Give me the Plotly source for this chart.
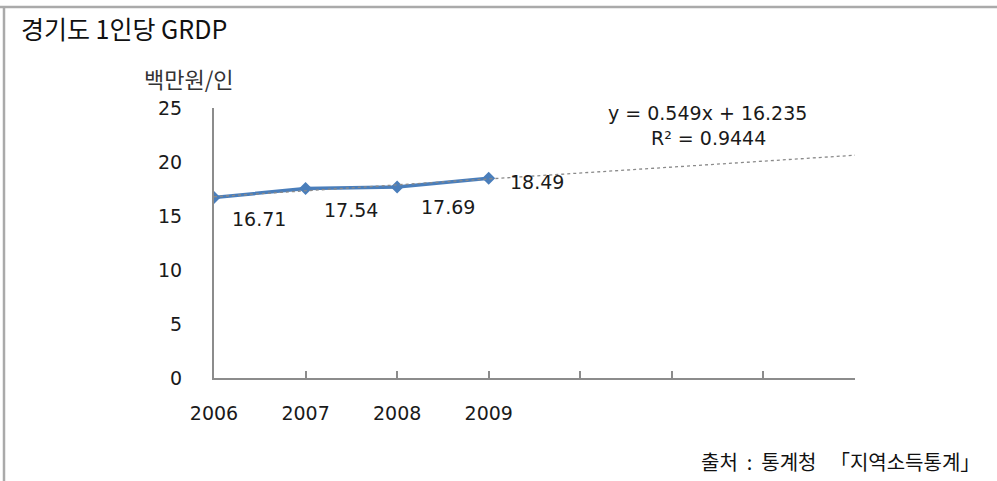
import plotly.graph_objects as go

years = ["2006", "2007", "2008", "2009"]
values = [16.71, 17.54, 17.69, 18.49]
extra_ticks = ["", "", "", ""]
trend_slope = 0.549
trend_intercept = 16.235
trend_r2 = 0.9444
y_ticks = [0, 5, 10, 15, 20, 25]

W, H = 997, 481
L, R, T, B = 214, 855, 108, 378

def px(x):
    return (x - L) / (R - L)

def py(y):
    return (B - y) / (B - T)

tick_labels = years + extra_ticks
n_ticks = len(tick_labels)
xs = list(range(len(years)))
trend_x = list(range(n_ticks))
trend_y = [trend_slope * (i + 1) + trend_intercept for i in trend_x]

num_font = "DejaVu Sans, Verdana, sans-serif"
kr_font = "Noto Sans CJK KR, sans-serif"
gray = "#8c8c8c"
nb = "\u00a0"

fig = go.Figure()
fig.add_trace(go.Scatter(x=xs, y=values, mode="lines+markers",
                         line=dict(color="#4a7ebb", width=3.5),
                         marker=dict(symbol="diamond", size=10, color="#4a7ebb"),
                         showlegend=False, hoverinfo="skip"))
fig.add_trace(go.Scatter(x=trend_x, y=trend_y, mode="lines",
                         line=dict(color="#8a8a8a", width=1.3, dash="dot"),
                         showlegend=False, hoverinfo="skip"))

shifts = [(16, -21), (16, -21), (22, -20), (19, -4)]
for i, v in enumerate(values):
    fig.add_annotation(x=xs[i], y=v, text=f"{v:.2f}", showarrow=False,
                       xanchor="left", yanchor="middle",
                       xshift=shifts[i][0], yshift=shifts[i][1],
                       font=dict(family=num_font, size=19, color="#1a1a1a"))

fig.add_annotation(xref="paper", yref="paper", x=px(707), y=py(113),
                   text=f"y = {trend_slope}x + {trend_intercept}", showarrow=False,
                   xanchor="center", yanchor="middle",
                   font=dict(family=num_font, size=19, color="#1a1a1a"))
fig.add_annotation(xref="paper", yref="paper", x=px(708), y=py(138),
                   text=f"R² = {trend_r2}", showarrow=False,
                   xanchor="center", yanchor="middle",
                   font=dict(family=num_font, size=19, color="#1a1a1a"))

fig.add_annotation(xref="paper", yref="paper", x=px(19), y=py(28),
                   text="경기도 1인당 GRDP", showarrow=False,
                   xanchor="left", yanchor="middle",
                   font=dict(family=kr_font, size=25, color="#111"))
fig.add_annotation(xref="paper", yref="paper", x=px(189), y=py(78),
                   text="백만원/인", showarrow=False,
                   xanchor="center", yanchor="middle",
                   font=dict(family=kr_font, size=22, color="#333"))
fig.add_annotation(xref="paper", yref="paper", x=px(982), y=py(461),
                   text=f"출처{nb}{nb}:{nb}{nb}통계청{nb}{nb}{nb}「지역소득통계」", showarrow=False,
                   xanchor="right", yanchor="middle",
                   font=dict(family=kr_font, size=20, color="#111"))

fig.add_shape(type="line", xref="paper", yref="paper",
              x0=px(0), x1=px(1000), y0=py(7), y1=py(7),
              line=dict(color="#aaaaaa", width=2.5))
fig.add_shape(type="line", xref="paper", yref="paper",
              x0=px(4), x1=px(4), y0=py(7), y1=py(490),
              line=dict(color="#aaaaaa", width=2.5))

fig.update_xaxes(range=[0, n_ticks - 1], tickmode="array",
                 tickvals=list(range(n_ticks)), ticktext=tick_labels,
                 showgrid=False, zeroline=False, showline=True,
                 linecolor=gray, linewidth=2,
                 ticks="inside", ticklen=7, tickwidth=1.5, tickcolor=gray,
                 ticklabelstandoff=17,
                 tickfont=dict(family=num_font, size=19, color="#1a1a1a"))
fig.update_yaxes(range=[0, 25], tickmode="array", tickvals=y_ticks,
                 showgrid=False, zeroline=False, showline=True,
                 linecolor=gray, linewidth=2, ticks="",
                 ticklabelstandoff=26,
                 tickfont=dict(family=num_font, size=19, color="#1a1a1a"))

fig.update_layout(width=W, height=H, margin=dict(l=L, r=W - R, t=T, b=H - B),
                  paper_bgcolor="white", plot_bgcolor="white")

fig.write_html("out.html", config={"displayModeBar": False},
               post_script="document.body.style.margin='0';")
